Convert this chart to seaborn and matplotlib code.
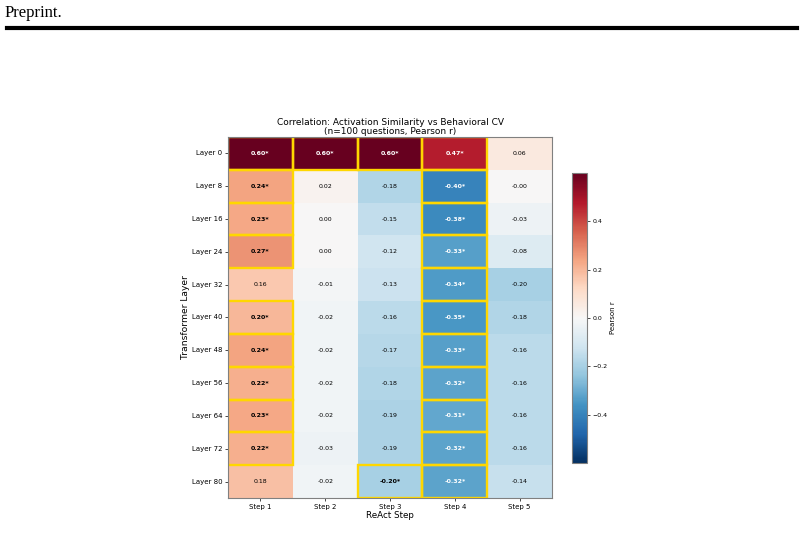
import numpy as np
import seaborn as sns
import matplotlib
matplotlib.use('Agg')
from matplotlib import pyplot as plt
from matplotlib.patches import Rectangle

layers = ['Layer 0', 'Layer 8', 'Layer 16', 'Layer 24', 'Layer 32', 'Layer 40',
          'Layer 48', 'Layer 56', 'Layer 64', 'Layer 72', 'Layer 80']
steps = ['Step 1', 'Step 2', 'Step 3', 'Step 4', 'Step 5']

# pearson r per layer / step
r_values = [
    [0.60, 0.60, 0.60, 0.47, 0.06],
    [0.24, 0.02, -0.18, -0.40, -0.00],
    [0.23, 0.00, -0.15, -0.38, -0.03],
    [0.27, 0.00, -0.12, -0.33, -0.08],
    [0.16, -0.01, -0.13, -0.34, -0.20],
    [0.20, -0.02, -0.16, -0.35, -0.18],
    [0.24, -0.02, -0.17, -0.33, -0.16],
    [0.22, -0.02, -0.18, -0.32, -0.16],
    [0.23, -0.02, -0.19, -0.31, -0.16],
    [0.22, -0.03, -0.19, -0.32, -0.16],
    [0.18, -0.02, -0.20, -0.32, -0.14],
]

# significant (p < 0.05) cells
significant = [
    [1, 1, 1, 1, 0],
    [1, 0, 0, 1, 0],
    [1, 0, 0, 1, 0],
    [1, 0, 0, 1, 0],
    [0, 0, 0, 1, 0],
    [1, 0, 0, 1, 0],
    [1, 0, 0, 1, 0],
    [1, 0, 0, 1, 0],
    [1, 0, 0, 1, 0],
    [1, 0, 0, 1, 0],
    [0, 0, 1, 1, 0],
]

r = np.array(r_values)
sig = np.array(significant, dtype=bool)

labels = np.empty(r.shape, dtype=object)
for i in range(r.shape[0]):
    for j in range(r.shape[1]):
        labels[i, j] = '{:.2f}{}'.format(r[i, j], '*' if sig[i, j] else '')

fig = plt.figure(figsize=(8.04, 5.53), dpi=100)

# page header
fig.text(0.006, 0.976, 'Preprint.', family='Liberation Serif', fontsize=12,
         va='center', ha='left')
fig.add_artist(plt.Line2D([0.009, 0.991], [0.949, 0.949], color='black', lw=3))

ax = fig.add_axes([0.2836, 0.0995, 0.403, 0.6528])
cax = fig.add_axes([0.7114, 0.1627, 0.0187, 0.5244])

sns.heatmap(r, ax=ax, cbar_ax=cax, cmap='RdBu_r', vmin=-0.6, vmax=0.6, center=0,
            annot=labels, fmt='', annot_kws={'size': 4.5},
            xticklabels=steps, yticklabels=layers)

for t, v, s in zip(ax.texts, r.flatten(), sig.flatten()):
    t.set_color('white' if abs(v) > 0.3 else 'black')
    if s:
        t.set_fontweight('bold')

# gold outline around significant cells
for i in range(r.shape[0]):
    for j in range(r.shape[1]):
        if sig[i, j]:
            ax.add_patch(Rectangle((j, i), 1, 1, fill=False, edgecolor='gold', lw=1.7))

for sp in ax.spines.values():
    sp.set_visible(True)
    sp.set_color('gray')
    sp.set_linewidth(0.8)

ax.set_title('Correlation: Activation Similarity vs Behavioral CV\n(n=100 questions, Pearson r)',
             fontsize=6.5, pad=2, linespacing=1.0)
ax.set_xlabel('ReAct Step', fontsize=6.3, labelpad=1)
ax.set_ylabel('Transformer Layer', fontsize=6.6, labelpad=1)
ax.tick_params(axis='both', labelsize=5, length=2, width=0.5, pad=2)
plt.setp(ax.get_yticklabels(), rotation=0)

cb = ax.collections[0].colorbar
cb.set_ticks([-0.4, -0.2, 0.0, 0.2, 0.4])
cb.ax.tick_params(labelsize=4.5, length=2, width=0.5, pad=2)
cb.set_label('Pearson r', fontsize=5, labelpad=2)
cb.outline.set_edgecolor('gray')
cb.outline.set_linewidth(0.8)

fig.savefig('out.png', dpi=100)
